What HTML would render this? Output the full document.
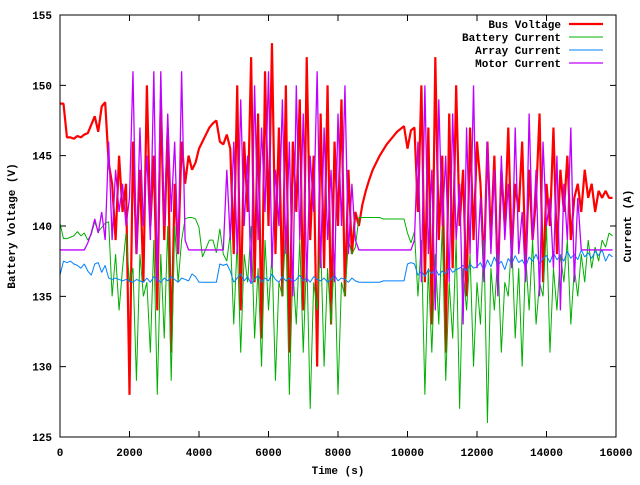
<!DOCTYPE html>
<html><head><meta charset="utf-8"><style>
body{margin:0;background:#fff}
svg text{font-family:"Liberation Mono",monospace;font-size:11px;font-weight:bold;fill:#000}
</style></head><body>
<svg id="chart" width="640" height="480">
<rect x="0" y="0" width="640" height="480" fill="#fff"/>
<g id="axes"></g><g id="series"></g><g id="legend"></g>
<rect x="60" y="15" width="556" height="422" fill="none" stroke="#000"/>
<text x="338" y="474" text-anchor="middle">Time (s)</text>
<text transform="translate(15,226) rotate(-90)" text-anchor="middle">Battery Voltage (V)</text>
<text transform="translate(631,226) rotate(-90)" text-anchor="middle">Current (A)</text>
</svg>
<script>
const xTicks=[0,2000,4000,6000,8000,10000,12000,14000,16000];
const yTicks=[125,130,135,140,145,150,155];
const timeStep=100;
const seriesNames=["Bus Voltage","Battery Current","Array Current","Motor Current"];
const busVoltage=[148.7,148.7,146.3,146.3,146.2,146.4,146.3,146.5,146.6,147.2,147.8,146.7,148.5,148.8,144.5,143,139,145,141,143,128,146,138,144,136,150,140,145,134,149,139,147,131,143,138,146,143,145,144,144.5,145.5,146,146.5,147,147.3,147.5,146,145.8,146.5,145.5,138,150,134,146,141,152,136,148,132,151,140,153,138,147,135,150,131,146,141,149,134,152,139,145,130,148,137,150,133,146,140,149,135,144,138,141,140,141.5,142.5,143.3,144,144.5,145,145.4,145.8,146.1,146.4,146.7,146.9,147.1,145.5,146.8,147,141,150,136,147,133,152,139,145,131,148,137,150,140,144,135,147,139,146,143,137,146,139,145,136,144,140,147,138,143,141,146,137,144,139,142,148,136,143,140,147,138,144,141,145,139,142,143,141,144,142,143,141,142.5,142,142.5,142,142];
const batteryCurrent=[140.2,139.1,139.1,139.2,139.3,139.6,139.3,139.5,139.0,139.4,140.3,139.6,139.9,140.2,140.3,135,138,134,137,139.5,136,137,129,138,135,136,131,139,128,138,132,140,129,140,136,139,140.5,140.6,140.6,140.5,139.9,137.8,138.4,139,139,138.1,139.8,138,137.5,139.5,133,139,131,138,136,140,132,137,130,139,134,138,129,136,135,140,128,137,133,139,131,138,127,136,134,139,130,137,133,138,128,136,135,139,138,138.5,140.6,140.6,140.6,140.6,140.6,140.6,140.6,140.5,140.5,140.5,140.5,140.5,140.5,140.5,139.5,138.8,139.6,135,139,128,137,131,138,133,140,129,136,132,139,127,137,134,138,130,136,133,139,126,137,134,138,131,136,135,139,132,137,130,138,134,139,133,136,135,140,131,137,134,138,136,139,133,137,135,138,136,139,137,138.5,137.5,139,138.5,139.5,139.3];
const arrayCurrent=[136.5,137.5,137.4,137.5,137.3,137.2,137.0,137.3,136.8,136.5,137.3,137.4,136.7,137.2,136.3,136.2,136.3,136.2,136.1,136.2,136.1,136.0,136.2,136.1,136.0,136.3,136.0,136.4,136.2,136.0,136.3,136.1,136.4,136.2,136.0,136.3,136.2,136.1,136.6,136.4,136.0,136.0,136.0,136.0,136.0,136.0,137.3,137.2,137.3,136.8,136.0,136.3,136.6,136.1,136.4,135.9,136.2,136.5,136.0,136.3,136.1,136.6,136.2,136.0,136.4,136.1,136.3,136.0,136.2,136.5,136.1,136.3,136.0,136.4,136.2,136.1,136.3,136.0,136.2,136.5,136.1,136.3,136.2,136.0,136.3,136.1,136.0,136.0,136.0,136.0,136.0,136.0,136.0,136.1,136.1,136.1,136.1,136.1,136.1,136.1,137.3,137.4,137.3,136.5,136.8,136.4,136.9,136.6,137.0,136.5,136.8,136.6,137.1,136.7,136.9,137.0,137.2,136.8,137.3,137.0,137.1,137.4,136.8,137.6,137.1,137.8,137.2,137.5,136.9,137.7,137.3,137.9,137.4,137.6,137.1,137.8,137.5,138.0,137.3,137.7,137.9,137.4,138.1,137.6,137.9,137.5,138.2,137.7,138.0,137.6,138.3,137.8,138.1,137.7,138.2,137.9,138.3,137.5,138.0,137.8];
const motorCurrent=[138.3,138.3,138.3,138.3,138.3,138.3,138.3,138.3,138.8,139.5,140.5,139.5,141,139,146,139,144,141,143,140,142,151,138,147,140,145,139,151,136,151,140,148,141,146,138,151,139,138.3,138.3,138.3,138.3,138.3,138.3,138.3,138.3,138.3,138.3,138.3,144,139,146,138,149,140,145,136,150,139,147,141,151,137,144,140,149,138,146,135,150,139,148,136,145,141,151,137,147,139,144,136,148,140,150,138,143,139,138.3,138.3,138.3,138.3,138.3,138.3,138.3,138.3,138.3,138.3,138.3,138.3,138.3,138.3,138.3,138.3,139,146,136,150,138,144,134,149,140,145,136,148,139,143,133,147,138,150,137,142,136,146,138,144,135,145,139,143,137,147,138,141,136,148,139,144,135,146,140,142,137,145,134,143,139,147,136,142,138.3,138.3,138.3,138.3,138.3,138.3,138.3,138.3,138.3,138.3];
const colors=["#ff0000","#00b000","#0080ff","#c000ff"];
const widths=[2.2,1,1,1.3];

const NS="http://www.w3.org/2000/svg";
const X0=60,X1=616,Y0=437,Y1=15;
function sx(t){return X0+(t-0)/(16000-0)*(X1-X0);}
function sy(v){return Y0-(v-125)/(155-125)*(Y0-Y1);}
const axes=document.getElementById('axes');
for(const t of xTicks){
  const x=sx(t);
  const l=document.createElementNS(NS,'path');
  l.setAttribute('d',`M${x},${Y0}v-6M${x},${Y1}v6`);l.setAttribute('stroke','#000');
  
  
  axes.appendChild(l);
  const tx=document.createElementNS(NS,'text');
  tx.setAttribute('x',x);tx.setAttribute('y',Y0+19);tx.setAttribute('text-anchor','middle');
  tx.textContent=t;
  
  
  axes.appendChild(tx);
}
for(const v of yTicks){
  const y=sy(v);
  const l=document.createElementNS(NS,'path');
  l.setAttribute('d',`M${X0},${y}h6M${X1},${y}h-6`);l.setAttribute('stroke','#000');
  
  
  axes.appendChild(l);
  const tx=document.createElementNS(NS,'text');
  tx.setAttribute('x',X0-8);tx.setAttribute('y',y+4);tx.setAttribute('text-anchor','end');
  tx.textContent=v;
  
  
  axes.appendChild(tx);
}
const sg=document.getElementById('series');
[busVoltage,batteryCurrent,arrayCurrent,motorCurrent].forEach((arr,k)=>{
  let d='';
  arr.forEach((v,i)=>{const x=sx(i*timeStep),y=sy(v);
    d+=(i===0?'M':'L')+x+','+y;});
  const p=document.createElementNS(NS,'path');
  p.setAttribute('d',d);p.setAttribute('fill','none');p.setAttribute('stroke',colors[k]);
  p.setAttribute('stroke-width',widths[k]);p.setAttribute('stroke-linejoin','bevel');
  
  
  sg.appendChild(p);
});
const lg=document.getElementById('legend');
seriesNames.forEach((n,k)=>{
  const y=24+k*13;
  const tx=document.createElementNS(NS,'text');
  tx.setAttribute('x',561);tx.setAttribute('y',y+4);tx.setAttribute('text-anchor','end');
  tx.textContent=n;
  
  
  lg.appendChild(tx);
  const l=document.createElementNS(NS,'line');
  l.setAttribute('x1',569);l.setAttribute('x2',603);l.setAttribute('y1',y);l.setAttribute('y2',y);
  l.setAttribute('stroke',colors[k]);l.setAttribute('stroke-width',widths[k]);
  
  
  lg.appendChild(l);
});
</script>
</body></html>
